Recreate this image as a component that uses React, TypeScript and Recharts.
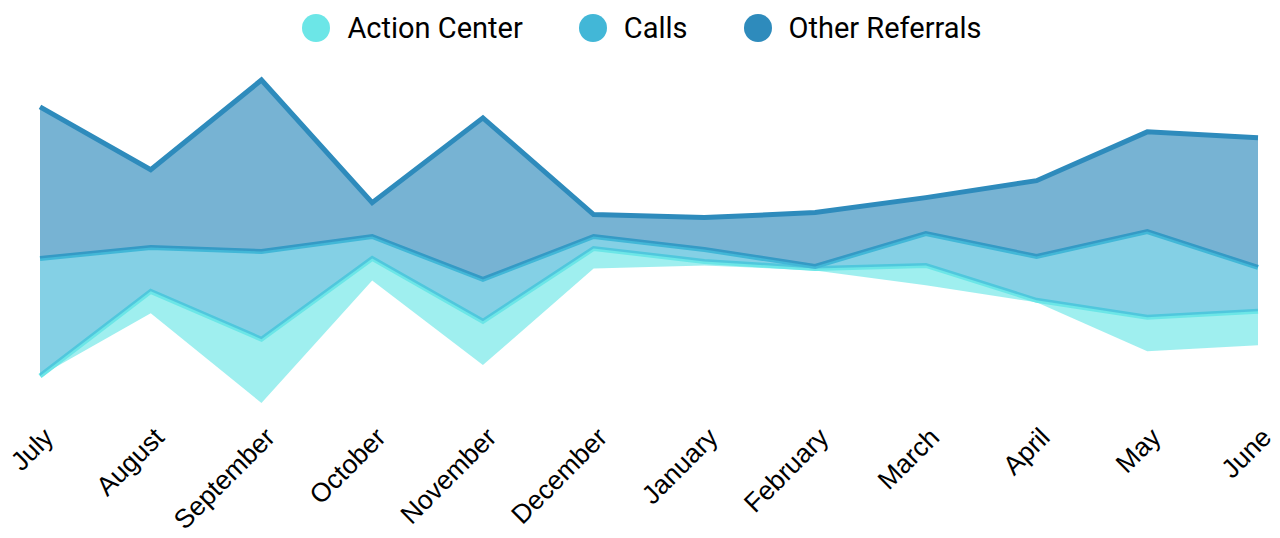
import { Area, AreaChart, Legend, XAxis, YAxis } from "recharts"

const months = [
  "July", "August", "September", "October", "November", "December",
  "January", "February", "March", "April", "May", "June",
]

const actionCenter = [0, 11, 32, 11, 22, 10, 2, 1, 10, 1, 17, 17]
const calls = [59, 22, 44, 11, 21, 6, 6, 1, 16, 22, 43, 22]
const otherReferrals = [76, 39, 86, 17, 81, 11, 16, 27, 18, 38, 50, 65]

const series = [
  { key: "actionCenter", name: "Action Center", color: "#6ce6e7" },
  { key: "calls", name: "Calls", color: "#42b7d7" },
  { key: "otherReferrals", name: "Other Referrals", color: "#2e8bbc" },
]

const data = months.map((month, i) => ({
  month,
  actionCenter: actionCenter[i],
  calls: calls[i],
  otherReferrals: otherReferrals[i],
}))

// Legend with round swatches, centred over the chart
const CustomLegend = () => (
  <div
    style={{
      height: 80,
      boxSizing: "border-box",
      paddingTop: 12,
      paddingRight: 14,
      display: "flex",
      justifyContent: "center",
      fontFamily: "Roboto, sans-serif",
      color: "#000",
    }}
  >
    {series.map((s, i) => (
      <div
        key={s.key}
        style={{ display: "flex", alignItems: "center", marginLeft: i === 0 ? 0 : 56, height: 32 }}
      >
        <span
          style={{ width: 28, height: 28, borderRadius: "50%", background: s.color, display: "inline-block" }}
        />
        <span style={{ marginLeft: 17, fontSize: 29 }}>{s.name}</span>
      </div>
    ))}
  </div>
)

// Rotated month labels
const MonthTick = ({ x, payload }: any) => (
  <text
    x={x + 15}
    y={439}
    transform={`rotate(-45, ${x + 15}, 439)`}
    textAnchor="end"
    fontSize={26.5}
    fontFamily="'Liberation Sans', Arial, sans-serif"
    fill="#000"
  >
    {payload.value}
  </text>
)

export default function App() {
  return (
    <div style={{ position: "absolute", left: 0, top: 0, width: 1280, height: 538, background: "#fff" }}>
      <AreaChart
        width={1280}
        height={538}
        data={data}
        stackOffset="silhouette"
        margin={{ top: 0, right: 22, bottom: 0, left: 40 }}
      >
        <XAxis
          dataKey="month"
          axisLine={false}
          tickLine={false}
          interval={0}
          height={135}
          tick={<MonthTick />}
        />
        <YAxis hide domain={["dataMin", "dataMax"]} />
        <Legend verticalAlign="top" content={<CustomLegend />} />
        {series.map((s) => (
          <Area
            key={s.key}
            type="linear"
            dataKey={s.key}
            name={s.name}
            stackId="1"
            stroke={s.color}
            strokeWidth={5}
            fill={s.color}
            fillOpacity={0.65}
            dot={false}
            activeDot={false}
            isAnimationActive={false}
          />
        ))}
      </AreaChart>
    </div>
  )
}
